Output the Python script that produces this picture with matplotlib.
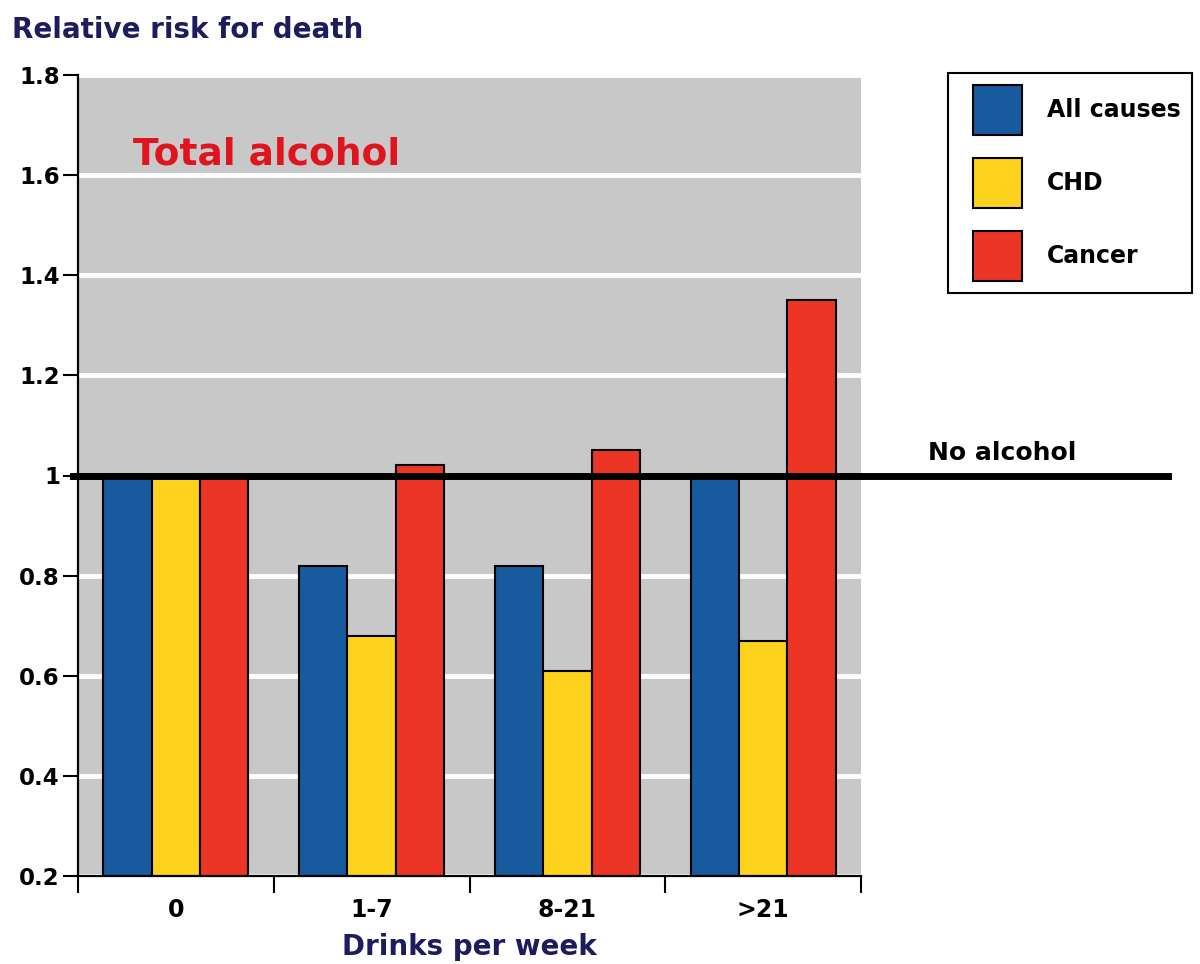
import matplotlib
matplotlib.use("Agg")
import matplotlib.pyplot as plt
from matplotlib.patches import Rectangle, Patch
from matplotlib.legend_handler import HandlerPatch

# Relative risk of death by weekly alcohol intake
categories = ["0", "1-7", "8-21", ">21"]
series_names = ["All causes", "CHD", "Cancer"]
all_causes = [1.0, 0.82, 0.82, 1.0]
chd = [1.0, 0.68, 0.61, 0.67]
cancer = [1.0, 1.02, 1.05, 1.35]
reference_level = 1.0
y_ticks = [0.2, 0.4, 0.6, 0.8, 1.0, 1.2, 1.4, 1.6, 1.8]
y_tick_labels = ["0.2", "0.4", "0.6", "0.8", "1", "1.2", "1.4", "1.6", "1.8"]

colors = ["#175a9e", "#fdd21c", "#ec3524"]
navy = "#1c1c5e"

plt.rcParams["font.family"] = ["DejaVu Sans"]

fig = plt.figure(figsize=(12, 9.64), dpi=100)
ax = fig.add_axes([78 / 1200, 1 - 876 / 964, 783 / 1200, 801 / 964])
ax.set_facecolor("#c8c8c8")

x = list(range(len(categories)))
w = 0.247
for i, (vals, col, name) in enumerate(zip([all_causes, chd, cancer], colors, series_names)):
    ax.bar([xi + (i - 1) * w for xi in x], vals, width=w, bottom=0,
           color=col, edgecolor="black", linewidth=1.5, label=name, zorder=3)

ax.set_xlim(-0.5, len(categories) - 0.5)
ax.set_ylim(0.2, 1.8)

# White horizontal gridlines
ax.set_yticks(y_ticks)
ax.set_yticklabels(y_tick_labels, fontsize=16.5, fontweight="bold")
ax.yaxis.grid(True, color="white", linewidth=3.5, zorder=1)
ax.set_axisbelow(True)

# Category labels at centres, tick marks at boundaries
ax.set_xticks(x)
ax.set_xticklabels(categories, fontsize=17, fontweight="bold")
ax.set_xticks([xi - 0.5 for xi in x] + [len(categories) - 0.5], minor=True)
ax.tick_params(axis="x", which="major", length=0, pad=16)
ax.tick_params(axis="x", which="minor", length=12, width=1.5, direction="out")
ax.tick_params(axis="y", length=11, width=1.5, pad=2)

for s in ["top", "right"]:
    ax.spines[s].set_visible(False)
for s in ["left", "bottom"]:
    ax.spines[s].set_linewidth(1.6)
    ax.spines[s].set_zorder(5)

# Reference line for non-drinkers, extending past the plotting area
ax.axhline(reference_level, xmin=-5 / 783, xmax=(1168 - 78) / 783, color="black",
           linewidth=5, clip_on=False, zorder=4)
fig.text(928 / 1200, 1 - 460 / 964, "No alcohol", fontsize=18, fontweight="bold",
         va="baseline", ha="left", color="black")

ax.text(0.07, 0.888, "Total alcohol", transform=ax.transAxes, fontsize=27,
        fontweight="bold", color="#e0141e", va="baseline", ha="left")

fig.text(12 / 1200, 1 - 38 / 964, "Relative risk for death", fontsize=20,
         fontweight="bold", color=navy, va="baseline", ha="left")
fig.text(469.5 / 1200, 1 - 955 / 964, "Drinks per week", fontsize=20,
         fontweight="bold", color=navy, va="baseline", ha="center")


def square_patch(legend, orig_handle, xdescent, ydescent, width, height, fontsize):
    # square swatch, inset from the left of the handle box
    return Rectangle((-xdescent + 0.56 * fontsize, -ydescent),
                     2.075 * fontsize, height)


handles = [Patch(facecolor=c, edgecolor="black", linewidth=1.5) for c in colors]
leg = fig.legend(handles, series_names, loc="upper left",
                 bbox_to_anchor=(948 / 1200, 1 - 73 / 964),
                 bbox_transform=fig.transFigure, borderaxespad=0,
                 prop={"size": 17, "weight": "bold"},
                 handlelength=2.63, handleheight=2.881, handletextpad=1.06,
                 labelspacing=0.974, borderpad=0.5, fancybox=False,
                 framealpha=1, edgecolor="black",
                 handler_map={Patch: HandlerPatch(patch_func=square_patch)})
leg.get_frame().set_linewidth(1.5)

fig.savefig("out.png", dpi=100, facecolor="white")
